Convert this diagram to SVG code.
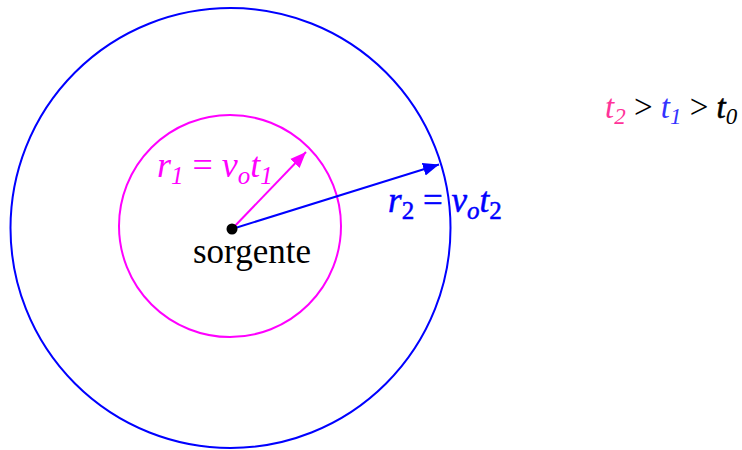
<svg xmlns="http://www.w3.org/2000/svg" width="742" height="450" viewBox="0 0 742 450">
<defs>
<style>
.t{font-family:"Liberation Serif","Times New Roman",serif;}
.it{font-style:italic;}
.mag{fill:#ff00ff;}
.blu{fill:#0000ff;stroke:#0000ff;stroke-width:0.5;}
</style>
<marker id="amag" markerUnits="userSpaceOnUse" markerWidth="17" markerHeight="14" refX="16" refY="7" orient="auto"><path d="M0,0.5 L16,7 L0,13.5 z" fill="#ff00ff"/></marker>
<marker id="ablu" markerUnits="userSpaceOnUse" markerWidth="17" markerHeight="14" refX="16" refY="7" orient="auto"><path d="M0,0.5 L16,7 L0,13.5 z" fill="#0000ff"/></marker>
</defs>
<rect width="742" height="450" fill="#ffffff"/>
<g id="outer-wave"><circle cx="230.5" cy="228" r="220" fill="none" stroke="#0000ff" stroke-width="2"/></g>
<g id="inner-wave"><circle cx="230" cy="226" r="111" fill="none" stroke="#ff00ff" stroke-width="2"/></g>
<g id="connectors">
<line x1="232" y1="229" x2="306" y2="152" stroke="#ff00ff" stroke-width="2" marker-end="url(#amag)"/>
<line x1="232" y1="229" x2="439" y2="164.5" stroke="#0000ff" stroke-width="2" marker-end="url(#ablu)"/>
</g>
<g id="source">
<circle cx="232" cy="229" r="5.5" fill="#000"/>
<text class="t" x="193" y="263" font-size="35" fill="#000">sorgente</text>
</g>
<g id="label-r1">
<text class="t mag" x="157" y="177" font-size="36"><tspan class="it">r</tspan><tspan class="it" font-size="25" dy="7">1</tspan><tspan dy="-7"> = </tspan><tspan class="it">v</tspan><tspan class="it" font-size="25" dy="7">o</tspan><tspan class="it" dy="-7">t</tspan><tspan class="it" font-size="25" dy="7">1</tspan></text>
</g>
<g id="label-r2">
<text class="t blu" x="388" y="212" font-size="35"><tspan class="it">r</tspan><tspan font-size="25" dy="7">2</tspan><tspan dy="-7"> = </tspan><tspan class="it">v</tspan><tspan class="it" font-size="25" dy="7">o</tspan><tspan class="it" dy="-7">t</tspan><tspan font-size="25" dy="7">2</tspan></text>
</g>
<g id="legend">
<text class="t" x="605" y="118" font-size="33"><tspan class="it" fill="#ff3399">t</tspan><tspan class="it" fill="#ff3399" font-size="23" dy="6">2</tspan><tspan dy="-6" fill="#000"> &gt; </tspan><tspan class="it" fill="#3333ff">t</tspan><tspan class="it" fill="#3333ff" font-size="23" dy="6">1</tspan><tspan dy="-6" fill="#000"> &gt; </tspan><tspan class="it" fill="#000" stroke="#000" stroke-width="0.6">t</tspan><tspan class="it" fill="#000" font-size="23" dy="6">0</tspan></text>
</g>
</svg>
